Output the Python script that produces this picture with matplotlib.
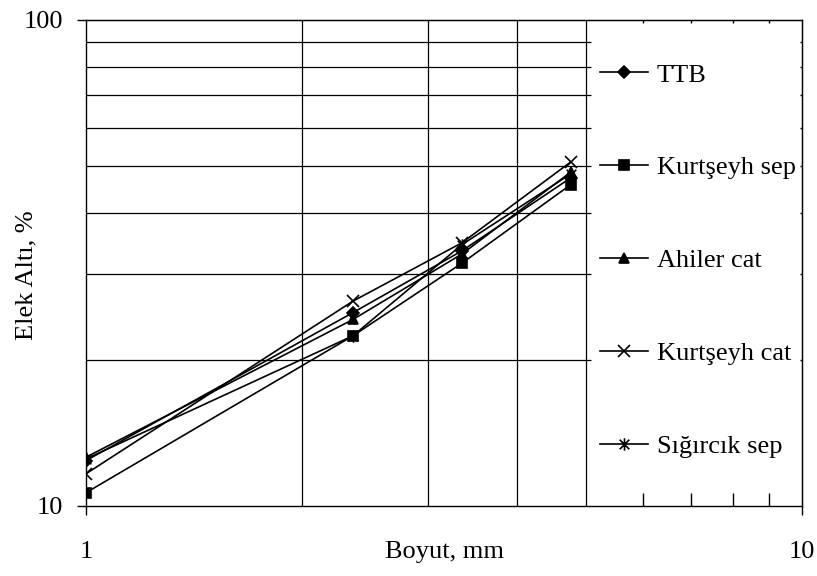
import matplotlib
matplotlib.use("Agg")
import matplotlib.pyplot as plt
from matplotlib.path import Path
from matplotlib.ticker import FixedLocator, NullFormatter, NullLocator

# sieve sizes (mm) and passing percentages
sizes = [1.0, 2.36, 3.35, 4.75]
series_names = ["TTB", "Kurtşeyh sep", "Ahiler cat", "Kurtşeyh cat", "Sığırcık sep"]
ttb = [12.4, 25.0, 33.5, 47.3]
kurtseyh_sep = [10.65, 22.4, 31.6, 45.8]
ahiler_cat = [12.6, 24.2, 33.0, 48.6]
kurtseyh_cat = [11.65, 26.4, 34.8, 51.0]
sigircik_sep = [12.5, 22.4, 34.5, 48.2]

grid_y = [20, 30, 40, 50, 60, 70, 80, 90]
grid_x = [2, 3, 4, 5]

# asterisk marker like the spreadsheet one: x plus a vertical bar
asterisk = Path(
    [(-1, -1), (1, 1), (-1, 1), (1, -1), (0, -1.3), (0, 1.3)],
    [Path.MOVETO, Path.LINETO, Path.MOVETO, Path.LINETO, Path.MOVETO, Path.LINETO],
)

plt.rcParams["font.family"] = ["Liberation Serif", "DejaVu Serif"]
plt.rcParams["font.size"] = 19

fig = plt.figure(figsize=(8.17, 5.76), dpi=100)
ax = fig.add_axes([86 / 817, 70 / 576, 716 / 817, 486 / 576])
ax.set_xscale("log")
ax.set_yscale("log")
ax.set_xlim(1, 10)
ax.set_ylim(10, 100)

# grid (horizontal lines stop where the legend area starts)
ax.hlines(grid_y, 1, 5.07, colors="black", lw=0.9, zorder=1)
ax.vlines(grid_x, 10, 100, colors="black", lw=0.9, zorder=1)

styles = [
    (ttb, "D", 6),
    (kurtseyh_sep, "s", 7),
    (ahiler_cat, "^", 7),
    (kurtseyh_cat, "x", 9),
    (sigircik_sep, asterisk, 9),
]
for (vals, mk, ms), name in zip(styles, series_names):
    ax.plot(sizes, vals, color="black", lw=1.2, marker=mk, markersize=ms,
            markerfacecolor="black", markeredgecolor="black", markeredgewidth=1.2,
            label=name, zorder=3)

for s in ax.spines.values():
    s.set_color("black")
    s.set_linewidth(1.0)

ax.xaxis.set_major_locator(FixedLocator([1, 10]))
ax.xaxis.set_major_formatter(plt.FixedFormatter(["1", "10"]))
ax.xaxis.set_minor_locator(FixedLocator([6, 7, 8, 9]))
ax.xaxis.set_minor_formatter(NullFormatter())
ax.yaxis.set_major_locator(FixedLocator([10, 100]))
ax.yaxis.set_major_formatter(plt.FixedFormatter(["10", "100"]))
ax.yaxis.set_minor_locator(NullLocator())

ax.tick_params(which="major", direction="out", length=6.5, width=1.0, color="black")
ax.tick_params(axis="x", which="major", pad=19)
ax.tick_params(axis="y", which="major", pad=10)
ax.tick_params(axis="x", which="minor", direction="in", length=9.5, width=1.0,
               bottom=True, top=False)

top = ax.secondary_xaxis("top")
top.xaxis.set_major_locator(NullLocator())
top.xaxis.set_minor_locator(FixedLocator([6, 7, 8, 9]))
top.xaxis.set_minor_formatter(NullFormatter())
top.tick_params(which="minor", direction="in", length=2.5, width=1.0)

right = ax.secondary_yaxis("right")
right.yaxis.set_major_locator(NullLocator())
right.yaxis.set_minor_locator(FixedLocator(grid_y))
right.yaxis.set_minor_formatter(NullFormatter())
right.tick_params(which="minor", direction="in", length=1.5, width=1.0)

ax.set_xlabel("Boyut, mm")
ax.set_ylabel("Elek Altı, %")
ax.xaxis.set_label_coords(0.501, -0.072)
ax.yaxis.set_label_coords(-0.068, 0.475)

ax.legend(loc="center left", bbox_to_anchor=(0.718, 0.505), frameon=False,
          borderpad=0, borderaxespad=0, handlelength=1.8, handletextpad=0.35,
          labelspacing=2.63, fontsize=19)

fig.savefig("out.png", dpi=100)
